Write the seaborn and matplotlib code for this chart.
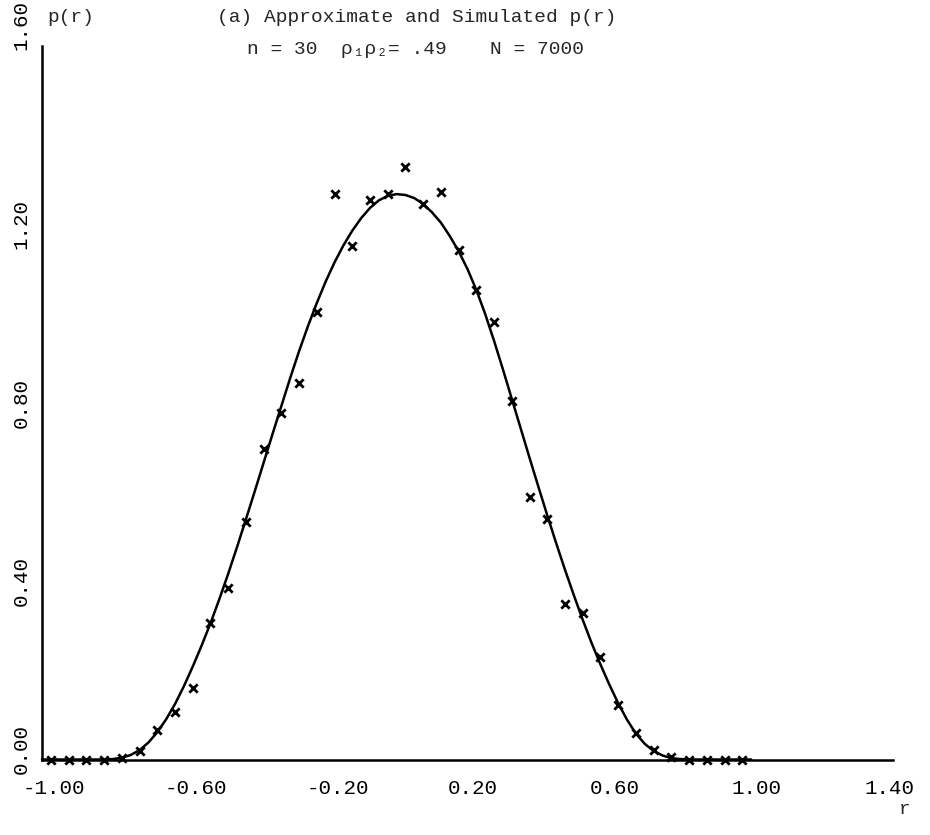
import numpy as np
import pandas as pd
import matplotlib
matplotlib.use("Agg")
import matplotlib.pyplot as plt
import matplotlib.transforms as mtransforms
import seaborn as sns

# Simulated histogram heights (bin centres every 0.05)
sim_r = [-0.975, -0.925, -0.875, -0.825, -0.775, -0.725, -0.675, -0.625,
         -0.575, -0.525, -0.475, -0.425, -0.375, -0.325, -0.275, -0.225,
         -0.175, -0.125, -0.075, -0.025, 0.025, 0.075, 0.125, 0.175,
         0.225, 0.275, 0.325, 0.375, 0.425, 0.475, 0.525, 0.575,
         0.625, 0.675, 0.725, 0.775, 0.825, 0.875, 0.925, 0.975]
sim_p = [0.000, 0.000, 0.000, 0.000, 0.003, 0.020, 0.065, 0.106,
         0.160, 0.307, 0.384, 0.532, 0.695, 0.776, 0.843, 1.003,
         1.267, 1.151, 1.254, 1.267, 1.327, 1.245, 1.272, 1.142,
         1.051, 0.980, 0.804, 0.588, 0.539, 0.348, 0.328, 0.230,
         0.122, 0.059, 0.021, 0.006, 0.000, 0.000, 0.000, 0.000]

# Approximate density p(r)
curve_r = [-1.000, -0.950, -0.900, -0.850, -0.825, -0.800, -0.775, -0.750,
           -0.725, -0.700, -0.675, -0.650, -0.625, -0.600, -0.575, -0.550,
           -0.525, -0.500, -0.475, -0.450, -0.425, -0.400, -0.375, -0.350,
           -0.325, -0.300, -0.275, -0.250, -0.225, -0.200, -0.175, -0.150,
           -0.125, -0.100, -0.075, -0.050, -0.025, 0.000, 0.025, 0.050,
           0.075, 0.100, 0.125, 0.150, 0.175, 0.200, 0.225, 0.250,
           0.275, 0.300, 0.325, 0.350, 0.375, 0.400, 0.425, 0.450,
           0.475, 0.500, 0.525, 0.550, 0.575, 0.600, 0.625, 0.650,
           0.675, 0.700, 0.725, 0.750, 0.775, 0.800, 0.825, 0.850,
           0.900, 0.950, 1.000]
curve_p = [0.000, 0.000, 0.000, 0.000, 0.000, 0.001, 0.004, 0.010,
           0.021, 0.038, 0.061, 0.090, 0.124, 0.164, 0.208, 0.255,
           0.305, 0.359, 0.416, 0.476, 0.538, 0.601, 0.665, 0.729,
           0.792, 0.855, 0.915, 0.971, 1.023, 1.071, 1.114, 1.152,
           1.185, 1.213, 1.236, 1.253, 1.263, 1.267, 1.265, 1.258,
           1.245, 1.226, 1.203, 1.173, 1.139, 1.099, 1.052, 0.998,
           0.938, 0.874, 0.808, 0.742, 0.676, 0.611, 0.547, 0.485,
           0.425, 0.368, 0.313, 0.261, 0.213, 0.168, 0.126, 0.089,
           0.058, 0.035, 0.019, 0.009, 0.003, 0.001, 0.000, 0.000,
           0.000, 0.000, 0.000]

x_ticks = [-1.0, -0.8, -0.6, -0.4, -0.2, 0.0, 0.2, 0.4, 0.6, 0.8, 1.0, 1.2, 1.4]
x_labels = ["-1.00", "", "-0.60", "", "-0.20", "", "0.20", "", "0.60", "", "1.00", "", "1.40"]
y_ticks = [0.0, 0.2, 0.4, 0.6, 0.8, 1.0, 1.2, 1.4, 1.6]
y_labels = ["0.00", "", "0.40", "", "0.80", "", "1.20", "", "1.60"]

sns.set_theme(style="white")
mono = ["Liberation Mono", "DejaVu Sans Mono"]
plt.rcParams["font.family"] = mono

DPI = 100
fig = plt.figure(figsize=(9.30, 8.35), dpi=DPI)
ax = fig.add_axes([42 / 930, 1 - 759.5 / 835, (893 - 42) / 930, (759.5 - 45.5) / 835])

curve_df = pd.DataFrame({"r": curve_r, "p": curve_p})
sim_df = pd.DataFrame({"r": sim_r, "p": sim_p})

sns.lineplot(data=curve_df, x="r", y="p", ax=ax, color="black", linewidth=1.8,
             sort=False, clip_on=False)
sns.scatterplot(data=sim_df, x="r", y="p", ax=ax, marker="x", s=36,
                color="black", linewidth=2.0, clip_on=False, zorder=3)

ax.set_xlim(-1.0, 1.4)
ax.set_ylim(0.0, 1.6)
ax.set_xticks(x_ticks)
ax.set_xticklabels(x_labels, fontsize=15)
ax.set_yticks(y_ticks)
ax.set_yticklabels(y_labels, fontsize=15, rotation=90, va="center")
ax.set_xlabel("")
ax.set_ylabel("")

for side in ["top", "right"]:
    ax.spines[side].set_visible(False)
for side in ["left", "bottom"]:
    ax.spines[side].set_color("black")
    ax.spines[side].set_linewidth(1.8)

ax.tick_params(axis="both", direction="inout", length=10, width=1.5,
               color="black", labelcolor="black")
ax.tick_params(axis="x", pad=9)
ax.tick_params(axis="y", pad=3)
ax.grid(False)


def shift(label, dx_px, dy_px):
    offset = mtransforms.ScaledTranslation(dx_px / DPI, dy_px / DPI, fig.dpi_scale_trans)
    label.set_transform(label.get_transform() + offset)


# plotter-style label placement: numbers sit a little right of their ticks
for lab in ax.get_xticklabels():
    txt = lab.get_text()
    if txt.startswith("-"):
        shift(lab, 12, 0)
    elif txt == "1.40":
        shift(lab, -4, 0)
    elif txt:
        shift(lab, 5, 0)

# end labels of the vertical axis are pushed inward along the axis
for lab in ax.get_yticklabels():
    if lab.get_text() == "0.00":
        shift(lab, 0, 10)
    elif lab.get_text() == "1.60":
        shift(lab, 0, 20)

fig.text(47 / 930, 1 - 18 / 835, "p(r)", fontsize=14, va="center", ha="left")
fig.text(217 / 930, 1 - 18 / 835, "(a) Approximate and Simulated p(r)",
         fontsize=14, va="center", ha="left")
fig.text(247 / 930, 1 - 50 / 835, "n = 30  ρ₁ρ₂= .49",
         fontsize=14, va="center", ha="left", family=mono)
fig.text(490 / 930, 1 - 50 / 835, "N = 7000",
         fontsize=14, va="center", ha="left", family=mono)
fig.text(905 / 930, 1 - 810 / 835, "r", fontsize=14, va="center", ha="center")

fig.savefig("out.png", dpi=DPI, facecolor="white")
